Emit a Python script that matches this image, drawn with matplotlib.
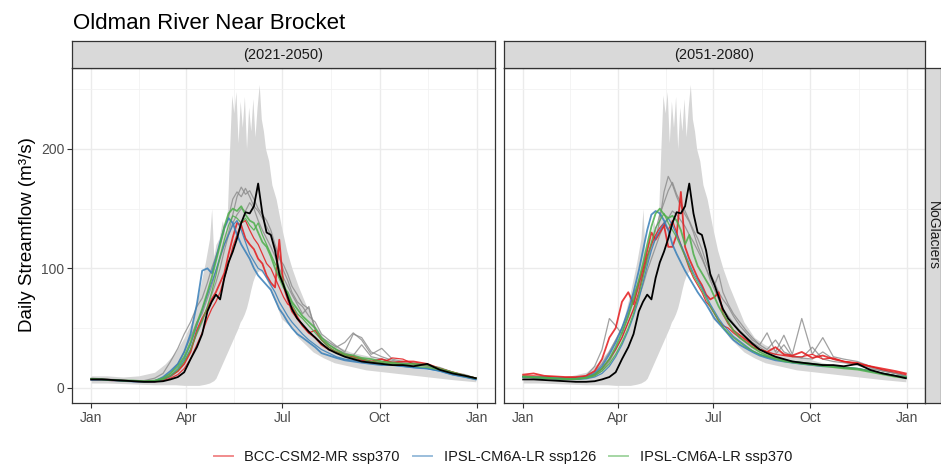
import matplotlib
matplotlib.use("Agg")
import matplotlib.pyplot as plt
from matplotlib.lines import Line2D

plt.rcParams['font.family'] = ['Liberation Sans', 'DejaVu Sans']

# ---- data (day of year, daily streamflow m3/s) ----
days = [0, 10, 20, 30, 40, 50, 60, 68, 75, 82, 88, 94, 100, 105, 110, 114, 118, 122, 126, 130,
        134, 138, 142, 146, 150, 154, 158, 162, 166, 170, 174, 178, 182, 186, 190, 195, 200, 206,
        212, 218, 225, 232, 240, 248, 256, 265, 275, 285, 295, 305, 318, 330, 342, 354, 364]

# historical range (ribbon) and observed line, same in both panels
rib_days = [0, 15, 30, 45, 60, 70, 80, 88, 95, 102, 108, 112, 114, 116, 118, 121, 124, 127, 129, 131,
            133, 135, 137, 139, 141, 143, 145, 147, 149, 151, 153, 155, 157, 159, 161, 163, 165, 168,
            171, 175, 180, 185, 190, 196, 203, 210, 220, 230, 245, 260, 280, 300, 320, 340, 364]
rib_hi = [10, 10, 9, 10, 13, 20, 30, 42, 55, 80, 105, 125, 150, 110, 120, 125, 140, 130, 150, 200,
          245, 230, 248, 205, 240, 218, 244, 200, 235, 215, 242, 210, 235, 254, 225, 215, 200, 190,
          170, 158, 135, 115, 100, 85, 70, 55, 42, 36, 30, 27, 22, 18, 15, 12, 9]
rib_lo = [4, 4, 3.5, 3, 2.5, 2.5, 2.5, 2, 2, 2, 3, 4, 5, 6, 8, 14, 20, 26, 30, 34,
          38, 42, 46, 50, 55, 58, 62, 67, 74, 82, 89, 94, 97, 98, 97, 95, 92, 86,
          78, 70, 58, 54, 50, 42, 36, 30, 25, 21, 18, 15, 13, 11, 9, 7, 5]
observed = [7, 7, 6.5, 6, 5.5, 5, 5, 5.5, 7, 9, 13, 24, 34, 45, 64, 72, 78, 74, 92, 105,
            114, 125, 138, 147, 146, 152, 171, 146, 130, 128, 115, 95, 86, 76, 66, 58, 53, 47,
            42, 37, 32, 29, 26, 24, 22, 21, 20, 19, 19, 18, 20, 15, 12, 10, 8]

# 2021-2050
p1_gray = [
    [8, 7.5, 7, 6.5, 6, 6, 8, 12, 22, 33, 45, 55, 68, 75, 88, 100, 110, 120, 132, 143,
     158, 164, 160, 167, 160, 152, 148, 142, 135, 128, 118, 108, 103, 95, 85, 78, 70, 66,
     50, 42, 38, 34, 38, 46, 40, 28, 33, 24, 22, 21, 19, 17, 13, 11, 8],
    [7, 7, 6.5, 6, 5.5, 5.5, 6, 8, 12, 20, 30, 42, 55, 62, 75, 85, 98, 108, 120, 130,
     145, 160, 168, 162, 165, 158, 150, 145, 140, 132, 120, 110, 98, 90, 80, 72, 68, 60,
     55, 45, 40, 35, 30, 45, 42, 30, 26, 23, 21, 20, 18, 15, 12, 10, 8],
    [7.5, 7, 6.5, 6, 6, 5.5, 6, 7, 9, 14, 22, 32, 45, 55, 68, 78, 88, 100, 115, 128,
     138, 145, 150, 148, 155, 150, 140, 132, 125, 118, 110, 100, 92, 85, 78, 70, 62, 68,
     48, 40, 36, 32, 29, 27, 36, 26, 24, 22, 20, 19, 18, 15, 12, 10, 8],
]
p1_red = [
    [7, 7, 6.5, 6, 5.5, 5, 5.5, 7, 10, 14, 20, 30, 48, 58, 66, 74, 80, 88, 96, 112,
     126, 138, 136, 125, 120, 116, 108, 104, 94, 88, 84, 124, 85, 74, 64, 58, 52, 46,
     42, 36, 32, 30, 27, 26, 24, 22, 24, 21, 22, 22, 20, 16, 13, 10, 8],
    [7, 6.5, 6, 6, 5.5, 5, 5, 6, 8, 11, 16, 24, 36, 46, 58, 66, 72, 80, 92, 104,
     118, 128, 138, 140, 132, 125, 120, 112, 104, 100, 92, 84, 76, 70, 68, 60, 52, 46,
     48, 40, 34, 30, 28, 25, 23, 22, 21, 25, 24, 20, 19, 16, 13, 10, 8],
]
p1_blue = [
    [7, 7, 6.5, 6, 5.5, 5, 5.5, 9, 14, 20, 30, 45, 70, 98, 100, 96, 108, 122, 134, 142,
     138, 128, 120, 114, 108, 100, 94, 90, 86, 82, 74, 66, 61, 55, 50, 45, 42, 38,
     34, 29, 27, 25, 23, 22, 21, 20, 19, 19, 18, 17, 16, 14, 11, 9, 7],
    [6.5, 6.5, 6, 5.5, 5, 5, 5, 7, 10, 16, 24, 36, 52, 65, 78, 88, 98, 110, 120, 128,
     136, 140, 132, 122, 112, 106, 100, 98, 92, 86, 80, 72, 66, 60, 55, 50, 45, 40,
     36, 32, 29, 26, 24, 23, 22, 21, 20, 19, 18, 17, 16, 14, 11, 9, 7],
]
p1_green = [
    [7.5, 7, 6.5, 6, 6, 5.5, 6, 8, 12, 18, 26, 38, 54, 66, 80, 92, 106, 120, 135, 146,
     150, 148, 152, 145, 140, 138, 130, 122, 118, 110, 100, 92, 84, 80, 72, 66, 60, 55,
     50, 42, 36, 32, 28, 27, 25, 24, 22, 21, 20, 20, 19, 16, 13, 10, 8],
    [7, 7, 6.5, 6, 5.5, 5, 5.5, 7, 10, 15, 22, 32, 46, 56, 68, 80, 94, 110, 124, 136,
     144, 142, 138, 142, 136, 132, 138, 128, 120, 112, 104, 98, 88, 78, 70, 62, 58, 52,
     46, 40, 34, 30, 27, 25, 24, 22, 21, 20, 19, 18, 17, 15, 12, 10, 8],
]

# 2051-2080
p2_gray = [
    [9, 8.5, 8, 7.5, 7, 7.5, 10, 18, 32, 58, 52, 45, 60, 78, 88, 95, 105, 118, 125, 140,
     164, 177, 170, 160, 152, 145, 139, 130, 119, 110, 100, 92, 86, 95, 80, 70, 62, 55,
     48, 42, 36, 46, 30, 44, 28, 58, 28, 42, 26, 24, 22, 18, 15, 12, 10],
    [9, 8.5, 8, 7.5, 7, 7, 9, 13, 20, 30, 40, 50, 62, 72, 84, 96, 110, 120, 132, 145,
     155, 165, 172, 162, 155, 148, 140, 132, 125, 116, 105, 96, 88, 80, 74, 68, 60, 52,
     46, 40, 36, 32, 40, 30, 27, 25, 24, 30, 24, 22, 20, 17, 14, 12, 10],
    [9.5, 9, 8.5, 8, 7.5, 7.5, 8, 10, 14, 22, 32, 42, 55, 65, 76, 86, 98, 108, 118, 128,
     136, 142, 148, 145, 140, 135, 128, 122, 115, 108, 100, 90, 82, 74, 66, 60, 54, 48,
     43, 38, 34, 30, 28, 36, 26, 25, 34, 24, 22, 21, 19, 16, 14, 12, 10],
]
p2_red = [
    [11, 12, 10, 9.5, 9, 9, 10, 14, 24, 42, 50, 72, 80, 70, 88, 100, 115, 130, 124, 130,
     136, 118, 118, 128, 164, 118, 108, 100, 92, 86, 78, 74, 76, 80, 62, 54, 48, 44,
     40, 36, 32, 30, 34, 28, 27, 30, 25, 27, 24, 22, 20, 18, 16, 14, 12],
    [10, 10, 9.5, 9, 8.5, 8.5, 9, 11, 16, 24, 32, 42, 55, 66, 80, 95, 110, 120, 128, 134,
     138, 132, 140, 130, 120, 110, 100, 92, 86, 80, 72, 68, 62, 56, 52, 50, 46, 42,
     38, 34, 32, 30, 28, 27, 26, 26, 28, 24, 25, 22, 21, 18, 15, 13, 11],
]
p2_blue = [
    [9, 9, 8.5, 8, 7.5, 7.5, 8.5, 12, 18, 28, 38, 50, 65, 80, 98, 115, 132, 145, 148, 146,
     140, 132, 120, 112, 105, 98, 92, 86, 80, 75, 70, 64, 58, 54, 50, 45, 40, 36,
     33, 30, 27, 25, 23, 22, 21, 20, 19, 18, 18, 17, 16, 14, 12, 10, 9],
    [9, 8.5, 8, 7.5, 7, 7, 7.5, 9, 12, 18, 26, 36, 48, 60, 74, 88, 102, 115, 125, 132,
     138, 142, 136, 128, 120, 112, 104, 96, 90, 84, 77, 70, 64, 58, 53, 48, 43, 39,
     35, 31, 28, 26, 24, 23, 22, 21, 20, 19, 18, 17, 16, 14, 12, 10, 9],
]
p2_green = [
    [9.5, 9, 8.5, 8, 7.5, 7.5, 8.5, 11, 16, 24, 34, 46, 60, 74, 90, 104, 120, 135, 146, 150,
     145, 142, 144, 140, 132, 120, 128, 112, 102, 96, 90, 84, 76, 68, 62, 55, 48, 42,
     38, 34, 30, 27, 25, 23, 22, 21, 20, 19, 18, 17, 16, 14, 12, 10, 9],
    [9, 8.5, 8, 7.5, 7, 7, 8, 10, 14, 20, 28, 38, 50, 62, 78, 92, 108, 122, 134, 140,
     146, 138, 132, 126, 118, 110, 102, 94, 88, 82, 75, 68, 62, 56, 51, 46, 42, 38,
     34, 31, 28, 26, 24, 22, 21, 20, 19, 18, 17, 16, 15, 13, 11, 9, 8],
]

periods = ["(2021-2050)", "(2051-2080)"]
scenarios = ["BCC-CSM2-MR ssp370", "IPSL-CM6A-LR ssp126", "IPSL-CM6A-LR ssp370"]
scen_colors = ["#E41A1C", "#377EB8", "#4DAF4A"]
month_ticks = [0, 90, 181, 273, 365]
month_labels = ["Jan", "Apr", "Jul", "Oct", "Jan"]
y_ticks = [0, 100, 200]

W, H = 941, 469
fig = plt.figure(figsize=(W / 100, H / 100), dpi=100)

panels = [(72, 495), (504, 925)]
top, bottom = 68, 403
axes = []
for k, (x0, x1) in enumerate(panels):
    ax = fig.add_axes([x0 / W, 1 - bottom / H, (x1 - x0) / W, (bottom - top) / H])
    axes.append(ax)
    # strip on top
    st = fig.add_axes([x0 / W, 1 - top / H, (x1 - x0) / W, 27 / H])
    st.set_facecolor("#D9D9D9")
    st.set_xticks([]); st.set_yticks([])
    for s in st.spines.values():
        s.set_color("#333333"); s.set_linewidth(0.9)
    st.text(0.5, 0.5, periods[k], ha="center", va="center", fontsize=10.5,
            color="#1A1A1A", transform=st.transAxes)

# right strip, narrow because it sits at the figure edge
rs = fig.add_axes([925 / W, 1 - bottom / H, 16 / W, (bottom - top) / H])
rs.set_facecolor("#D9D9D9")
rs.set_xticks([]); rs.set_yticks([])
for s in rs.spines.values():
    s.set_color("#333333"); s.set_linewidth(0.9)
rs.text(0.5, 0.5, "NoGlaciers", ha="center", va="center", rotation=-90,
        fontsize=10, color="#1A1A1A", transform=rs.transAxes)

panel_data = [(p1_gray, p1_red, p1_blue, p1_green), (p2_gray, p2_red, p2_blue, p2_green)]

for k, ax in enumerate(axes):
    gray, red, blue, green = panel_data[k]
    ax.fill_between(rib_days, rib_lo, rib_hi, color="#D6D6D6", lw=0, zorder=1)
    for s in gray:
        ax.plot(days, s, color="#8A8A8A", lw=0.9, alpha=0.8, zorder=2)
    for group, col in zip([red, blue, green], scen_colors):
        for j, s in enumerate(group):
            ax.plot(days, s, color=col, lw=1.3 if j == 0 else 0.9, alpha=0.85, zorder=3)
    ax.plot(days, observed, color="black", lw=1.3, zorder=4)

    ax.set_xlim(-18.2, 382.2)
    ax.set_ylim(-12.75, 267.75)
    ax.set_xticks(month_ticks)
    ax.set_xticklabels(month_labels)
    ax.set_xticks([45, 135.5, 227, 319], minor=True)
    ax.set_yticks(y_ticks)
    ax.set_yticks([50, 150, 250], minor=True)
    ax.grid(which="major", color="#EBEBEB", lw=1.0, zorder=0)
    ax.grid(which="minor", color="#F2F2F2", lw=0.6, zorder=0)
    ax.set_axisbelow(True)
    ax.tick_params(which="minor", length=0)
    ax.tick_params(which="major", length=3.5, width=0.8, color="#333333",
                   labelsize=10, labelcolor="#4D4D4D", pad=2)
    for s in ax.spines.values():
        s.set_color("#333333"); s.set_linewidth(0.9); s.set_zorder(5)
    if k == 1:
        ax.tick_params(axis="y", left=False, labelleft=False)

fig.text(73 / W, 1 - 29 / H, "Oldman River Near Brocket", fontsize=16,
         ha="left", va="baseline", color="black")
fig.text(28 / W, 1 - 235 / H, "Daily Streamflow (m³/s)", fontsize=13.5,
         rotation=90, ha="center", va="center", color="black")

handles = [Line2D([0], [0], color=c, lw=1.4, alpha=0.5) for c in scen_colors]
fig.legend(handles, scenarios, loc="center", bbox_to_anchor=(503 / W, 1 - 457 / H),
           ncol=3, frameon=False, fontsize=10.5, handlelength=1.3, handletextpad=0.8,
           columnspacing=0.9, labelcolor="#1A1A1A")

fig.savefig("out.png", dpi=100)
